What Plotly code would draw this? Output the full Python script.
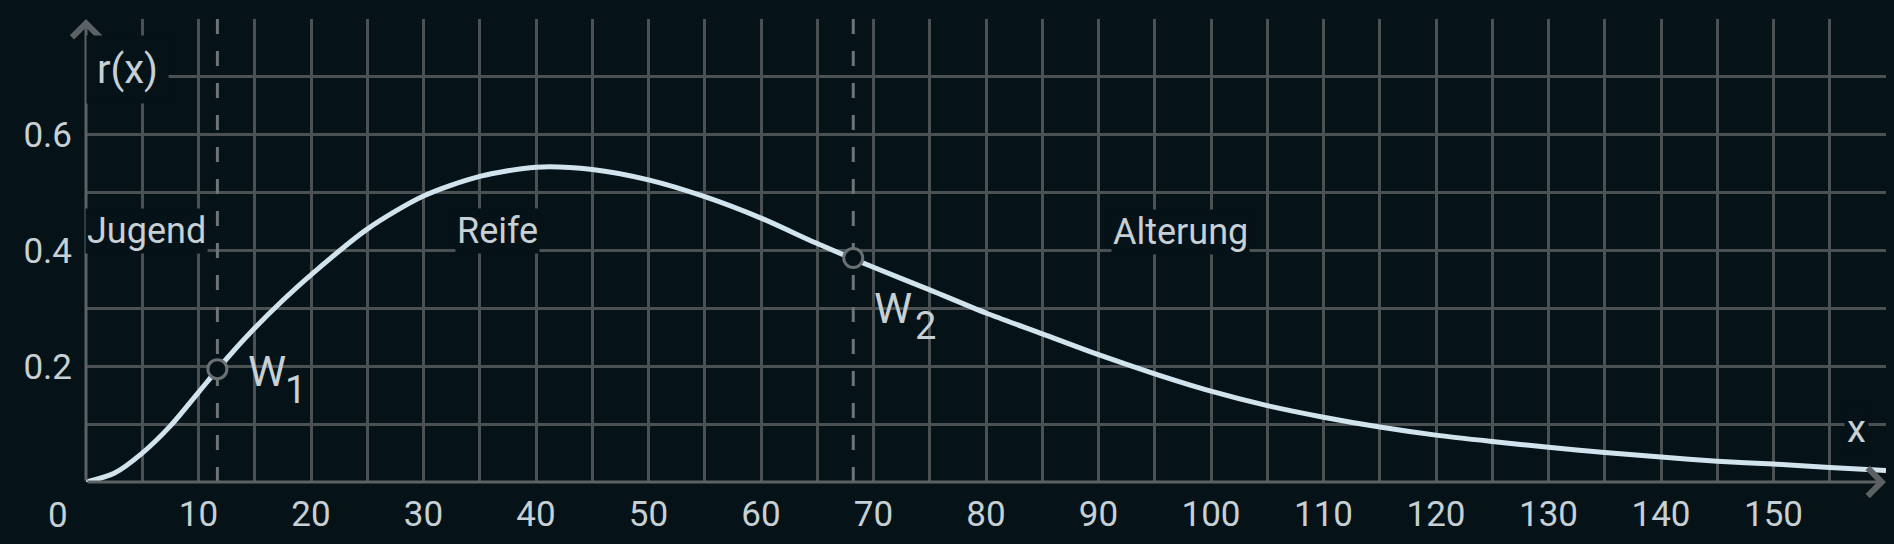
import plotly.graph_objects as go

# --- datos ---
x_vals = [0, 2.5, 5, 7.5, 10, 12.5, 15, 17.5, 20, 25, 30, 35, 40, 45, 50, 55, 60,
          65, 70, 75, 80, 85, 90, 95, 100, 105, 110, 115, 120, 125, 130, 135, 140,
          145, 150, 155, 160]
r_vals = [0, 0.015, 0.05, 0.097, 0.155, 0.213, 0.266, 0.314, 0.358, 0.437, 0.494,
          0.528, 0.544, 0.540, 0.522, 0.493, 0.456, 0.412, 0.371, 0.332, 0.292,
          0.256, 0.220, 0.187, 0.157, 0.132, 0.112, 0.095, 0.081, 0.070, 0.060,
          0.051, 0.043, 0.036, 0.031, 0.025, 0.020]

# Wendepunkte
w_x = [11.68, 68.2]
w_y = [0.195, 0.387]
w_index = ["1", "2"]

# Phasen
phase_names = ["Jugend", "Reife", "Alterung"]
phase_x = [5.4, 36.6, 97.3]
phase_y = [0.433, 0.433, 0.432]

x_ticks = [10, 20, 30, 40, 50, 60, 70, 80, 90, 100, 110, 120, 130, 140, 150]
y_ticks = [0.2, 0.4, 0.6]
y_ticktext = ["0.2", "0.4", "0.6"]

BG = "#051218"
GRID = "#4b5053"
AXIS = "#5c6163"
TEXT = "#c6d0d5"
CURVE = "#d1e4ee"
FONT = "Roboto"

fig = go.Figure()

# gestrichelte Linien durch die Wendepunkte
for wx in w_x:
    fig.add_trace(go.Scatter(x=[wx, wx], y=[0, 0.8], mode="lines",
                             line=dict(color="#6f7476", width=3, dash="15px,17px"),
                             hoverinfo="skip", showlegend=False))

fig.add_trace(go.Scatter(x=x_vals, y=r_vals, mode="lines",
                         line=dict(color=CURVE, width=5, shape="spline", smoothing=0.8),
                         showlegend=False))

fig.add_trace(go.Scatter(x=w_x, y=w_y, mode="markers",
                         marker=dict(size=19, color=BG, line=dict(color="#6b7072", width=3)),
                         showlegend=False))

annotations = []
# Achsen mit Pfeilen
annotations.append(dict(x=160, y=0, ax=0, ay=0, xref="x", yref="y", axref="x", ayref="y",
                        text="", showarrow=True, arrowhead=4, arrowsize=1.8,
                        arrowwidth=3, arrowcolor=AXIS))
annotations.append(dict(x=0, y=0.8, ax=0, ay=0, xref="x", yref="y", axref="x", ayref="y",
                        text="", showarrow=True, arrowhead=4, arrowsize=1.8,
                        arrowwidth=3, arrowcolor=AXIS))

annotations.append(dict(x=0, y=0, xref="x", yref="y", text="0", showarrow=False,
                        xshift=-28, yshift=-33, font=dict(size=35, color=TEXT, family=FONT)))
annotations.append(dict(x=3.7, y=0.713, xref="x", yref="y", text="r(x)", showarrow=False,
                        bgcolor=BG, borderpad=10, font=dict(size=40, color=TEXT, family=FONT)))
annotations.append(dict(x=157.4, y=0.092, xref="x", yref="y", text="x", showarrow=False,
                        bgcolor=BG, borderpad=2, font=dict(size=38, color=TEXT, family=FONT)))

for name, px, py in zip(phase_names, phase_x, phase_y):
    annotations.append(dict(x=px, y=py, xref="x", yref="y", text=name, showarrow=False,
                            bgcolor=BG, borderpad=1, font=dict(size=36, color=TEXT, family=FONT)))

# Beschriftung W1 / W2 (Buchstabe und Index getrennt)
w_offsets = [(50, -2, 78, -21), (40, -50, 72, -68)]
for wx, wy, idx, (dx, dy, ix, iy) in zip(w_x, w_y, w_index, w_offsets):
    annotations.append(dict(x=wx, y=wy, xref="x", yref="y", text="W", showarrow=False,
                            xshift=dx, yshift=dy, font=dict(size=43, color=TEXT, family=FONT)))
    annotations.append(dict(x=wx, y=wy, xref="x", yref="y", text=idx, showarrow=False,
                            xshift=ix, yshift=iy, font=dict(size=38, color=TEXT, family=FONT)))

fig.update_layout(
    width=1894, height=544,
    margin=dict(l=86, r=8, t=19, b=62),
    paper_bgcolor=BG, plot_bgcolor=BG,
    font=dict(family=FONT, color=TEXT),
    annotations=annotations,
    showlegend=False,
)
fig.update_xaxes(range=[0, 160], tickvals=x_ticks,
                 showgrid=True, gridcolor=GRID, gridwidth=2.5, zeroline=False,
                 minor=dict(dtick=5, tick0=0, showgrid=True, gridcolor=GRID, gridwidth=2.5),
                 showline=False, ticks="", ticklabelstandoff=8,
                 tickfont=dict(size=35, color=TEXT, family=FONT))
fig.update_yaxes(range=[0, 0.8], tickvals=y_ticks, ticktext=y_ticktext,
                 showgrid=True, gridcolor=GRID, gridwidth=2.5, zeroline=False,
                 minor=dict(dtick=0.1, tick0=0, showgrid=True, gridcolor=GRID, gridwidth=2.5),
                 showline=False, ticks="", ticklabelstandoff=13,
                 tickfont=dict(size=35, color=TEXT, family=FONT))

fig.write_html("out.html", config={"displayModeBar": False},
               post_script="document.body.style.margin='0';"
                           "document.body.style.background='#051218';")
